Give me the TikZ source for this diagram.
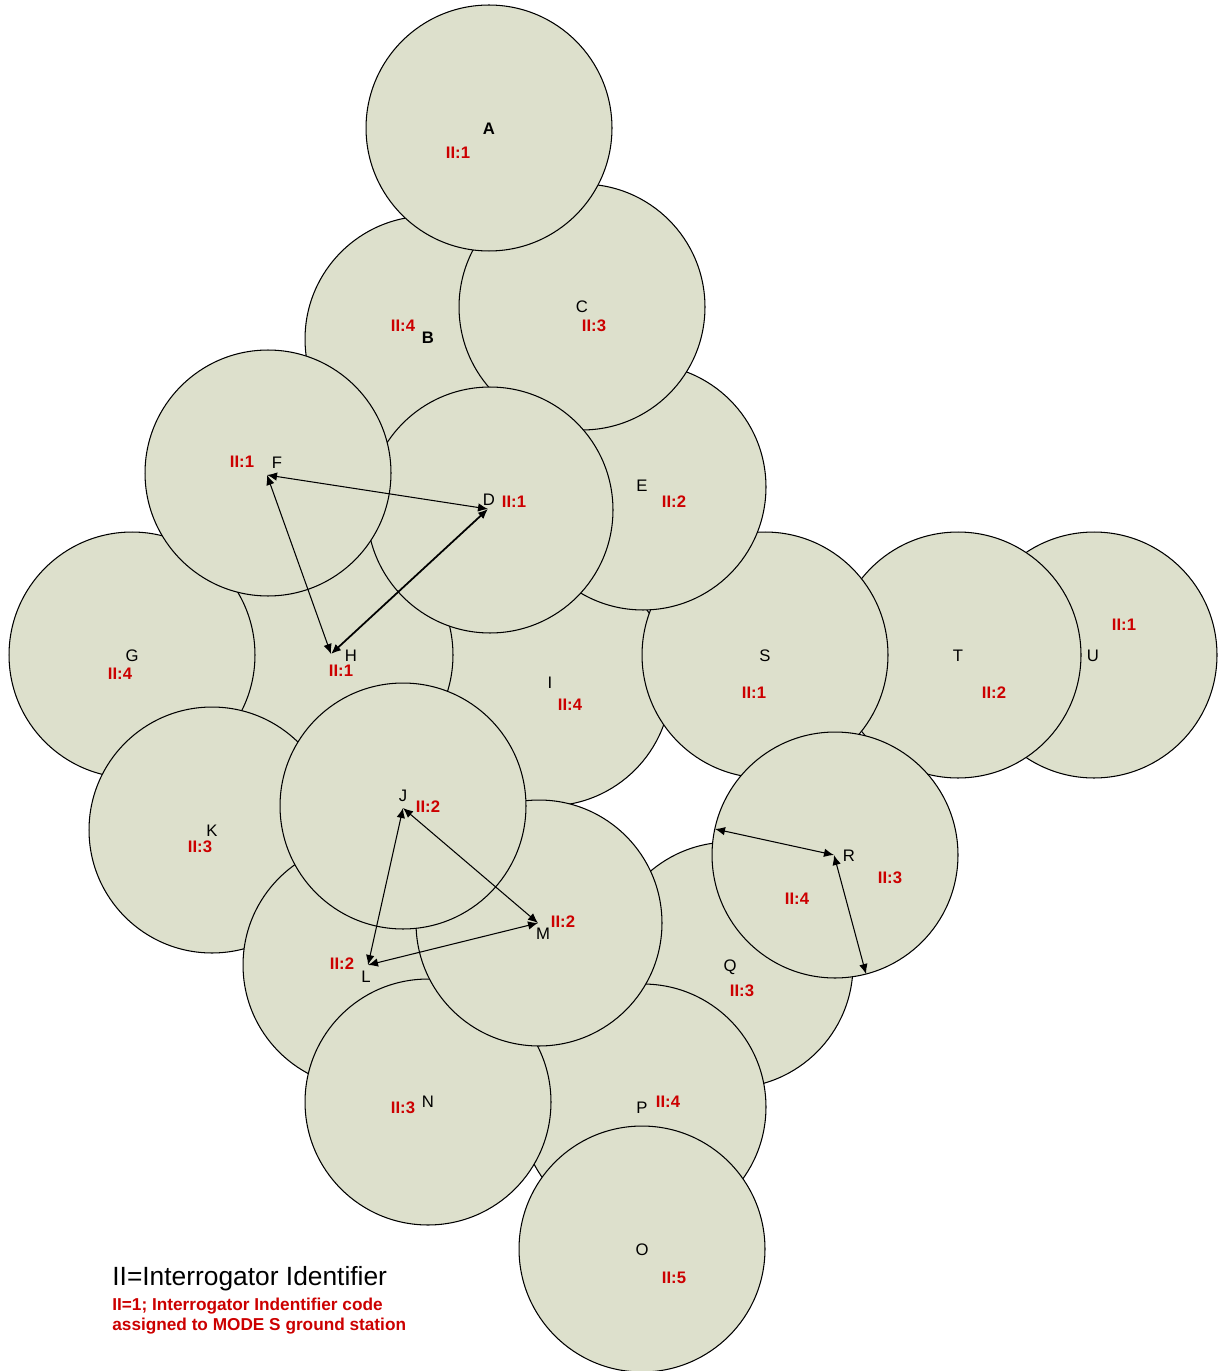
\documentclass[tikz,border=0pt]{standalone}
\usepackage{fontspec}
\setmainfont{Liberation Sans}
\usepackage{tikz}
\usetikzlibrary{arrows.meta,positioning}
\definecolor{cellfill}{RGB}{221,224,204}
\definecolor{iired}{RGB}{204,0,0}

\begin{document}
\begin{tikzpicture}[
    x=0.02cm, y=-0.02cm,
    cell/.style={circle, draw, fill=cellfill, minimum size=4.92cm, inner sep=0pt, line width=0.6pt},
    site/.style={inner sep=0pt, yshift=-0.02cm, font=\fontsize{9.5}{11}\selectfont},
    ii/.style={inner sep=0pt, yshift=-0.02cm, text=iired, font=\fontsize{9.5}{11}\selectfont\bfseries},
    link/.style={{Latex[length=2mm,width=1.7mm]}-{Latex[length=2mm,width=1.7mm]}, line width=0.6pt}
]
\useasboundingbox (0,0) rectangle (1218,1371);

% coverage cells, back to front
\node[cell] (cI) at (548,683) {};
\node[cell] (cU) at (1094,655) {};
\node[cell] (cT) at (958,655) {};
\node[cell] (cS) at (765,655) {};
\node[cell] (cE) at (643,487) {};
\node[cell] (cB) at (428,339) {};
\node[cell] (cC) at (582,307) {};
\node[cell] (cA) at (489,128) {};
\node[cell] (cH) at (330,655) {};
\node[cell] (cG) at (132,655) {};
\node[cell] (cK) at (212,830) {};
\node[cell] (cD) at (490,510) {};
\node[cell] (cF) at (268,473) {};
\node[cell] (cL) at (366,965) {};
\node[cell] (cQ) at (730,965) {};
\node[cell] (cP) at (643,1107) {};
\node[cell] (cN) at (428,1102) {};
\node[cell] (cM) at (539,923) {};
\node[cell] (cJ) at (403,806) {};
\node[cell] (cO) at (642,1249) {};
\node[cell] (cR) at (835,855) {};

% station names
\node[site] (nA) at (489,128) {\bfseries A};
\node[site] (nB) at (428,337) {\bfseries B};
\node[site] (nC) at (582,306) {C};
\node[site] (nD) at (489,499) {D};
\node[site] (nE) at (642,485) {E};
\node[site] (nF) at (277,462) {F};
\node[site] (nG) at (132,655) {G};
\node[site] (nH) at (351,655) {H};
\node[site] (nI) at (550,682) {I};
\node[site] (nJ) at (403,795) {J};
\node[site] (nK) at (212,830) {K};
\node[site] (nL) at (366,976) {L};
\node[site] (nM) at (543,933) {M};
\node[site] (nN) at (428,1101) {N};
\node[site] (nO) at (642,1249) {O};
\node[site] (nP) at (642,1107) {P};
\node[site] (nQ) at (730,966) {Q};
\node[site] (nR) at (849,855) {R};
\node[site] (nS) at (765,655) {S};
\node[site] (nT) at (958,655) {T};
\node[site] (nU) at (1093,655) {U};

% interrogator codes
\node[ii] (iA) at (458,152) {II:1};
\node[ii] (iB) at (403,325) {II:4};
\node[ii] (iC) at (594,325) {II:3};
\node[ii] (iD) at (514,501) {II:1};
\node[ii] (iE) at (674,501) {II:2};
\node[ii] (iF) at (242,461) {II:1};
\node[ii] (iG) at (120,673) {II:4};
\node[ii] (iH) at (341,670) {II:1};
\node[ii] (iI) at (570,704) {II:4};
\node[ii] (iJ) at (428,806) {II:2};
\node[ii] (iK) at (200,846) {II:3};
\node[ii] (iL) at (342,963) {II:2};
\node[ii] (iM) at (563,921) {II:2};
\node[ii] (iN) at (403,1107) {II:3};
\node[ii] (iO) at (674,1277) {II:5};
\node[ii] (iP) at (668,1101) {II:4};
\node[ii] (iQ) at (742,990) {II:3};
\node[ii] (iR) at (890,877) {II:3};
\node[ii] (iRb) at (797,898) {II:4};
\node[ii] (iS) at (754,692) {II:1};
\node[ii] (iT) at (994,692) {II:2};
\node[ii] (iU) at (1124,624) {II:1};

% links between sites
\coordinate (pF) at (267,475);
\coordinate (pD) at (488,509);
\coordinate (pH) at (331,654);
\coordinate (pJ) at (403,808);
\coordinate (pL) at (368,965);
\coordinate (pM) at (538,923);
\coordinate (pR) at (834,855);
\coordinate (rimW) at (715,829);
\coordinate (rimS) at (866,974);
\draw[link] (pF) -- (pD);
\draw[link] (pF) -- (pH);
\draw[link, line width=1pt] (pD) -- (pH);
\draw[link] (pJ) -- (pL);
\draw[link] (pJ) -- (pM);
\draw[link] (pL) -- (pM);
\draw[link] (pR) -- (rimW);
\draw[link] (pR) -- (rimS);

% legend
\node[anchor=west, inner sep=0pt, font=\fontsize{15}{18}\selectfont] (key) at (112,1279) {II=Interrogator Identifier};
\node[ii, anchor=north west, align=left, font=\fontsize{9.8}{11.3}\selectfont\bfseries] (keynote) at (112,1297) {II=1; Interrogator Indentifier code\\assigned to MODE S ground station};
\end{tikzpicture}
\end{document}
